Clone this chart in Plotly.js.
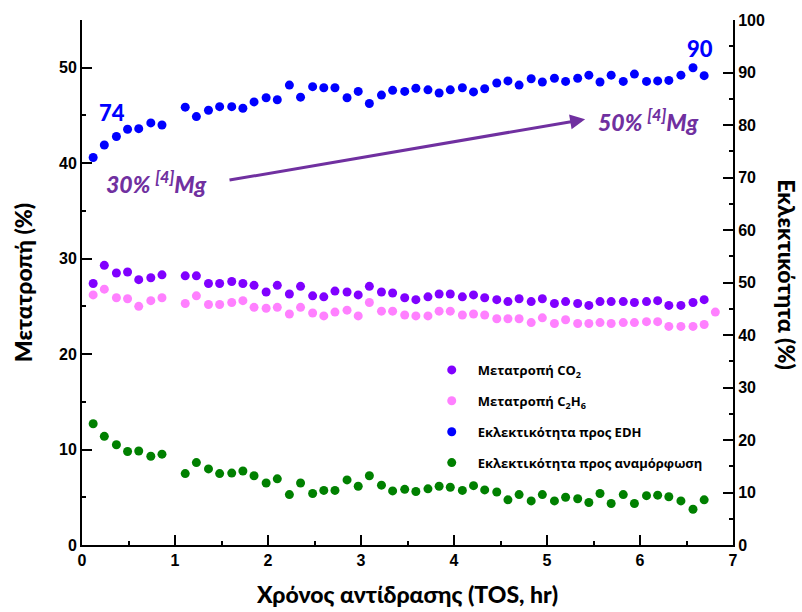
<!DOCTYPE html>
<html>
<head>
<meta charset="utf-8">
<script src="https://cdn.plot.ly/plotly-3.0.1.min.js"></script>
<style>html,body{margin:0;padding:0;background:#fff;}#chart{width:802px;height:612px;}</style>
</head>
<body>
<div id="chart"></div>
<script>
// Time on stream (hr)
const tos = [0.12,0.24,0.37,0.49,0.61,0.74,0.86,1.11,1.23,1.36,1.48,1.61,1.73,1.85,1.98,2.10,2.23,2.35,2.48,2.60,2.72,2.85,2.97,3.09,3.22,3.34,3.47,3.59,3.72,3.84,3.96,4.09,4.21,4.33,4.46,4.58,4.70,4.83,4.95,5.08,5.20,5.33,5.45,5.57,5.69,5.82,5.94,6.07,6.19,6.31,6.44,6.57,6.69];
const tosC2H6 = tos.concat([6.81]);

// Conversion CO2 (%) - left axis
const convCO2 = [27.4,29.3,28.5,28.6,27.8,28.0,28.3,28.2,28.2,27.4,27.4,27.6,27.4,27.2,26.5,27.2,26.3,27.1,26.1,26.0,26.6,26.5,26.2,27.1,26.5,26.4,25.9,25.7,26.0,26.3,26.3,26.0,26.2,25.9,25.7,25.5,25.8,25.5,25.8,25.3,25.5,25.3,25.1,25.5,25.5,25.5,25.4,25.5,25.6,25.1,25.1,25.4,25.7];
// Conversion C2H6 (%) - left axis
const convC2H6 = [26.2,26.8,25.9,25.8,25.0,25.6,25.9,25.3,26.1,25.2,25.2,25.4,25.6,24.9,24.8,24.9,24.2,24.9,24.3,24.0,24.4,24.6,24.0,25.4,24.5,24.5,24.1,24.0,24.0,24.5,24.5,24.1,24.2,24.1,23.7,23.7,23.7,23.3,23.8,23.2,23.6,23.2,23.2,23.3,23.2,23.3,23.3,23.4,23.4,22.9,22.9,22.9,23.1,24.4];
// Selectivity to EDH (%) - right axis
const selEDH = [73.8,76.2,77.8,79.2,79.3,80.4,80.0,83.4,81.6,82.8,83.5,83.5,83.2,84.4,85.2,84.8,87.6,85.3,87.3,87.1,87.1,85.2,86.4,84.1,85.7,86.6,86.4,87.0,86.7,86.1,86.7,87.1,86.3,86.9,88.0,88.4,87.6,88.8,88.2,88.9,88.3,88.9,89.5,88.2,89.5,88.3,89.7,88.3,88.4,88.5,89.5,90.9,89.4];
// Selectivity to reforming (%) - right axis
const selRef = [23.1,20.7,19.1,17.8,17.9,16.9,17.3,13.6,15.7,14.5,13.6,13.7,14.1,13.2,11.8,12.6,9.6,11.8,9.8,10.4,10.4,12.4,11.2,13.2,11.4,10.3,10.6,10.2,10.7,11.2,11.0,10.4,11.3,10.5,10.1,8.6,9.6,8.4,9.6,8.4,9.1,8.8,8.1,9.8,7.9,9.6,7.9,9.4,9.5,9.2,8.4,6.8,8.6];

const names = ['Μετατροπή CO<sub>2</sub>','Μετατροπή C<sub>2</sub>H<sub>6</sub>','Εκλεκτικότητα προς EDH','Εκλεκτικότητα προς αναμόρφωση'];
const colors = ['#8000FF','#FF80FF','#0000FF','#008000'];

const titleFont = 'Lato, "Open Sans", "Noto Sans", sans-serif';
const tickFont = {family:'"Liberation Sans", Arial, sans-serif', size:16, color:'#000', weight:'bold'};

function tr(x, y, i, axis){
  return {x:x, y:y, type:'scatter', mode:'markers', name:names[i], yaxis:axis,
    legendgroup:'g'+i, marker:{color:colors[i], size:9}};
}
const data = [
  tr(tos, convCO2, 0, 'y'),
  tr(tosC2H6, convC2H6, 1, 'y'),
  tr(tos, selEDH, 2, 'y2'),
  tr(tos, selRef, 3, 'y2')
];

const purple = '#7030A0';
const layout = {
  width:802, height:612,
  margin:{l:82, r:69, t:20, b:67},
  paper_bgcolor:'#fff', plot_bgcolor:'#fff',
  showlegend:true,
  legend:{x:0.528, y:0.362, xanchor:'left', yanchor:'top', bgcolor:'rgba(0,0,0,0)',
    font:{family:'"Open Sans", "Noto Sans", sans-serif', size:13, color:'#000', weight:700}, tracegroupgap:11, itemwidth:42},
  xaxis:{range:[0,7], dtick:1, tick0:0, showline:true, linecolor:'#000', linewidth:2,
    ticks:'inside', ticklen:10, tickwidth:2, tickcolor:'#000', showgrid:false, zeroline:false,
    minor:{ticks:'inside', ticklen:4, dtick:0.5, tickcolor:'#000', tickwidth:2, showgrid:false},
    tickfont:tickFont,
    title:{text:'Χρόνος αντίδρασης (TOS, hr)', font:{family:titleFont, size:23, color:'#000', weight:900}, standoff:19}},
  yaxis:{range:[0,55], dtick:10, tick0:0, showline:true, linecolor:'#000', linewidth:2,
    ticks:'inside', ticklen:10, tickwidth:2, tickcolor:'#000', showgrid:false, zeroline:false,
    minor:{ticks:'inside', ticklen:4, dtick:5, tickcolor:'#000', tickwidth:2, showgrid:false},
    tickfont:tickFont,
    title:{text:'Μετατροπή (%)', font:{family:titleFont, size:23, color:'#000', weight:900}, standoff:20}},
  yaxis2:{range:[0,100], dtick:10, tick0:0, overlaying:'y', side:'right', showline:true, linecolor:'#000', linewidth:2,
    ticks:'inside', ticklen:10, tickwidth:2, tickcolor:'#000', showgrid:false, zeroline:false,
    minor:{ticks:'inside', ticklen:4, dtick:5, tickcolor:'#000', tickwidth:2, showgrid:false},
    tickfont:tickFont},
  annotations:[
    {xref:'paper', yref:'paper', x:1.108, y:0.515, text:'Εκλεκτικότητα (%)', textangle:90, showarrow:false,
      font:{family:titleFont, size:23, color:'#000', weight:900}},
    {x:0.32, y:45.3, xref:'x', yref:'y', text:'74', showarrow:false, font:{family:titleFont, size:22, color:'#0000FF', weight:900}},
    {x:6.64, y:52.0, xref:'x', yref:'y', text:'90', showarrow:false, font:{family:titleFont, size:22, color:'#0000FF', weight:900}},
    {x:0.8, y:38.0, xref:'x', yref:'y', text:'<i>30% <sup>[4]</sup>Mg</i>', showarrow:false, font:{family:titleFont, size:23, color:purple, weight:900}},
    {x:6.09, y:44.5, xref:'x', yref:'y', text:'<i>50% <sup>[4]</sup>Mg</i>', showarrow:false, font:{family:titleFont, size:23, color:purple, weight:900}},
    {x:5.41, y:44.6, ax:1.57, ay:38.2, xref:'x', yref:'y', axref:'x', ayref:'y', text:'', showarrow:true,
      arrowhead:2, arrowsize:1, arrowwidth:3, arrowcolor:purple}
  ]
};

Plotly.newPlot('chart', data, layout, {displayModeBar:false, staticPlot:true});
</script>
</body>
</html>
